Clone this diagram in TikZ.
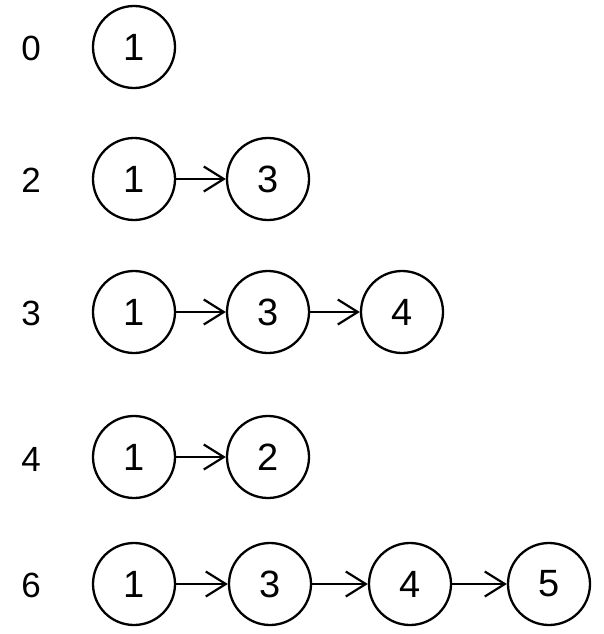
\documentclass[tikz,border=0pt]{standalone}
\usepackage{fontspec}
\setmainfont{Liberation Sans}
\usetikzlibrary{arrows.meta}
\begin{document}
\begin{tikzpicture}[x=1pt,y=-1pt,
  nd/.style={circle,draw=black,line width=2.3pt,minimum size=82pt,inner sep=0pt,font=\fontsize{38}{38}\selectfont},
  lbl/.style={inner sep=0pt,font=\fontsize{35}{35}\selectfont},
  arr/.style={line width=2.2pt,-{Straight Barb[length=20pt,width=25pt,line width=2.2pt]}}]
\useasboundingbox (0,0) rectangle (603,634);
% row 0
\node[lbl] (l0) at (31,48) {0};
\node[nd] (a1) at (134,47) {1};
% row 2
\node[lbl] (l2) at (31,180) {2};
\node[nd] (b1) at (134,179) {1};
\node[nd] (b2) at (268,179) {3};
\draw[arr] (b1) -- (b2);
% row 3
\node[lbl] (l3) at (31,313) {3};
\node[nd] (c1) at (134,312) {1};
\node[nd] (c2) at (268,312) {3};
\node[nd] (c3) at (402,312) {4};
\draw[arr] (c1) -- (c2);
\draw[arr] (c2) -- (c3);
% row 4
\node[lbl] (l4) at (31,459) {4};
\node[nd] (d1) at (134,457) {1};
\node[nd] (d2) at (268,457) {2};
\draw[arr] (d1) -- (d2);
% row 6
\node[lbl] (l6) at (31,585) {6};
\node[nd] (e1) at (134,584) {1};
\node[nd] (e2) at (270,584) {3};
\node[nd] (e3) at (410,584) {4};
\node[nd] (e4) at (549,584) {5};
\draw[arr] (e1) -- (e2);
\draw[arr] (e2) -- (e3);
\draw[arr] (e3) -- (e4);
\end{tikzpicture}
\end{document}
